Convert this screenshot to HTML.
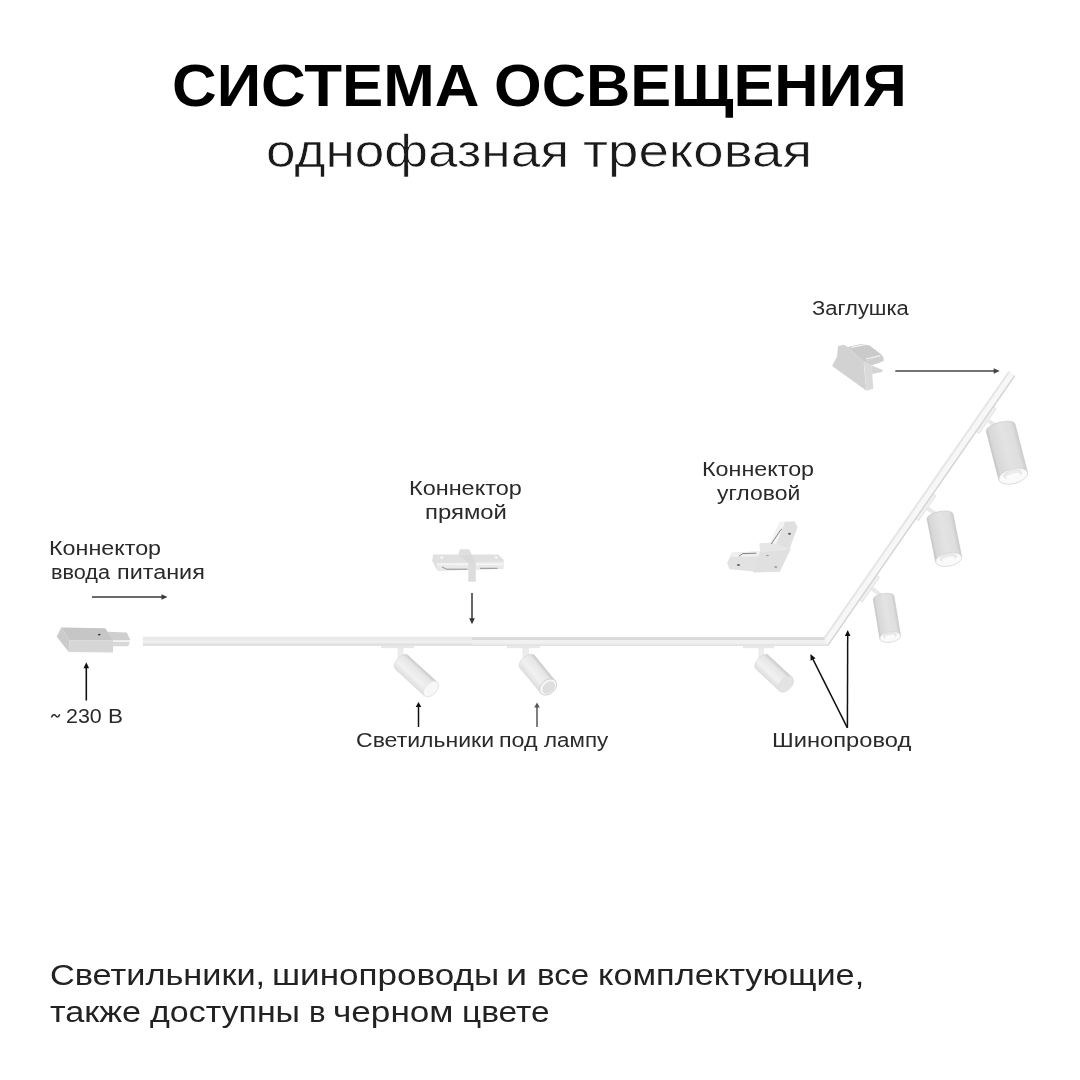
<!DOCTYPE html>
<html><head><meta charset="utf-8">
<style>
html,body{margin:0;padding:0;background:#fff;}
body{width:1080px;height:1080px;position:relative;overflow:hidden;font-family:"Liberation Sans",sans-serif;color:#1a1a1a;}
.t{position:absolute;white-space:nowrap;line-height:1;transform-origin:0 0;will-change:transform;}
svg{position:absolute;left:0;top:0;}
</style></head>
<body>
<svg width="1080" height="1080" viewBox="0 0 1080 1080">
<defs>
<linearGradient id="bodyH" x1="0" y1="0" x2="1" y2="0">
 <stop offset="0" stop-color="#dedede"/><stop offset="0.35" stop-color="#f1f1f1"/><stop offset="0.8" stop-color="#e6e6e6"/><stop offset="1" stop-color="#c9c9c9"/>
</linearGradient>
<linearGradient id="bodyV" x1="0" y1="0" x2="1" y2="0">
 <stop offset="0" stop-color="#c6c6c6"/><stop offset="0.1" stop-color="#d8d8d8"/><stop offset="0.5" stop-color="#e3e3e3"/><stop offset="0.85" stop-color="#dedede"/><stop offset="1" stop-color="#cccccc"/>
</linearGradient>
</defs>
<polygon points="143,637.30 823.89,637.30 828.35,645.80 143,645.80" fill="#ebebeb"/>
<polygon points="143,637.30 823.89,637.30 825.28,639.95 143,639.95" fill="#d9d9d9"/>
<polygon points="143,639.95 825.28,639.95 827.17,643.55 143,643.55" fill="#f1f1f1"/>
<polygon points="143,644.85 827.85,644.85 828.35,645.80 143,645.80" fill="#dedede"/>
<polygon points="823.89,637.30 1008.36,371.18 1015.34,376.02 828.35,645.80" fill="#f0f0f0"/>
<polygon points="823.89,637.30 1008.36,371.18 1010.04,372.35 824.97,639.35" fill="#e6e6e6"/>
<polygon points="824.97,639.35 1010.04,372.35 1013.99,375.08 827.48,644.15" fill="#f7f7f7"/>
<polygon points="827.69,644.55 1014.32,375.31 1015.34,376.02 828.35,645.80" fill="#d3d3d3"/>
<rect x="143" y="636.70" width="329" height="9.10" fill="#e9e9e9"/>
<rect x="143" y="640.35" width="329" height="2.6" fill="#efefef"/>
<rect x="143" y="643.75" width="329" height="2.05" fill="#e0e0e0"/>
<rect x="381" y="645.8" width="33" height="2.4" fill="#e8e8e8"/>
<rect x="398" y="648" width="5" height="13" fill="#ececec" stroke="#e0e0e0" stroke-width="0.5"/>
<rect x="507" y="645.8" width="33" height="2.4" fill="#e8e8e8"/>
<rect x="523" y="648" width="5.5" height="13" fill="#ececec" stroke="#e0e0e0" stroke-width="0.5"/>
<rect x="743" y="645.8" width="31" height="2.4" fill="#e8e8e8"/>
<rect x="759" y="648" width="4.2999999999999545" height="13" fill="#ececec" stroke="#e0e0e0" stroke-width="0.5"/>
<g transform="translate(401.50,662.10) rotate(-47.54)"><path d="M-9.4,0 A9.4,5.170000000000001 0 0 1 9.4,0 L9.4,39.849341274354806 L-9.4,39.849341274354806 Z" fill="url(#bodyH)" stroke="#d2d2d2" stroke-width="0.5"/><ellipse cx="0" cy="39.849341274354806" rx="9.4" ry="5.828" fill="#f7f7f7" stroke="#e0e0e0" stroke-width="0.8"/></g>
<g transform="translate(527.20,661.60) rotate(-39.45)"><path d="M-9.6,0 A9.6,5.28 0 0 1 9.6,0 L9.6,32.89331239021084 L-9.6,32.89331239021084 Z" fill="url(#bodyH)" stroke="#d2d2d2" stroke-width="0.5"/><ellipse cx="0" cy="32.89331239021084" rx="9.6" ry="6.912" fill="#f6f6f6" stroke="#cfcfcf" stroke-width="0.9"/><ellipse cx="0" cy="33.693312390210835" rx="7.199999999999999" ry="5.112" fill="#dedede"/></g>
<g transform="translate(762.00,662.00) rotate(-47.10)"><path d="M-9.3,0 A9.3,5.115000000000001 0 0 1 9.3,0 L9.3,32.76110498746949 L-9.3,32.76110498746949 Z" fill="url(#bodyH)" stroke="#d2d2d2" stroke-width="0.5"/><ellipse cx="0" cy="32.76110498746949" rx="9.3" ry="5.766" fill="#e3e3e3" stroke="#d8d8d8" stroke-width="0.6"/></g>
<g transform="translate(868.58,588.08) rotate(-55.27)"><rect x="-15.0" y="-0.3" width="30" height="3" fill="#f0f0f0" stroke="#d6d6d6" stroke-width="0.6"/></g>
<line x1="872" y1="588.6" x2="882" y2="596" stroke="#e9e9e9" stroke-width="4"/>
<g transform="translate(924.98,506.71) rotate(-55.27)"><rect x="-15.0" y="-0.3" width="30" height="3" fill="#f0f0f0" stroke="#d6d6d6" stroke-width="0.6"/></g>
<line x1="927" y1="508.3" x2="937" y2="514.5" stroke="#e9e9e9" stroke-width="4"/>
<g transform="translate(985.37,419.59) rotate(-55.27)"><rect x="-15.0" y="-0.3" width="30" height="3" fill="#f0f0f0" stroke="#d6d6d6" stroke-width="0.6"/></g>
<line x1="988.6" y1="420.8" x2="996" y2="426" stroke="#e9e9e9" stroke-width="4"/>
<g transform="translate(883.60,597.60) rotate(-9.51)"><path d="M-10.5,0 A10.5,3.99 0 0 1 10.5,0 L10.5,39.94896744598036 L-10.5,39.94896744598036 Z" fill="url(#bodyV)" stroke="#c4c4c4" stroke-width="0.5"/><ellipse cx="0" cy="39.94896744598036" rx="10.5" ry="5.25" fill="#fafafa" stroke="#cdcdcd" stroke-width="0.6"/><ellipse cx="0" cy="38.47896744598036" rx="6.51" ry="2.8875" fill="#ececec" stroke="#d2d2d2" stroke-width="0.5"/><ellipse cx="0" cy="39.94896744598036" rx="5.25" ry="1.8375" fill="#fbfbfb"/></g>
<g transform="translate(940.00,516.50) rotate(-11.44)"><path d="M-13.25,0 A13.25,5.035 0 0 1 13.25,0 L13.25,43.8712890168502 L-13.25,43.8712890168502 Z" fill="url(#bodyV)" stroke="#c4c4c4" stroke-width="0.5"/><ellipse cx="0" cy="43.8712890168502" rx="13.25" ry="6.625" fill="#fafafa" stroke="#cdcdcd" stroke-width="0.6"/><ellipse cx="0" cy="42.0162890168502" rx="8.215" ry="3.6437500000000003" fill="#ececec" stroke="#d2d2d2" stroke-width="0.5"/><ellipse cx="0" cy="43.8712890168502" rx="6.625" ry="2.3187499999999996" fill="#fbfbfb"/></g>
<g transform="translate(1000.70,427.80) rotate(-14.48)"><path d="M-14.85,0 A14.85,5.643 0 0 1 14.85,0 L14.85,49.988098583562845 L-14.85,49.988098583562845 Z" fill="url(#bodyV)" stroke="#c4c4c4" stroke-width="0.5"/><ellipse cx="0" cy="49.988098583562845" rx="14.85" ry="7.425" fill="#fafafa" stroke="#cdcdcd" stroke-width="0.6"/><ellipse cx="0" cy="47.909098583562844" rx="9.206999999999999" ry="4.08375" fill="#ececec" stroke="#d2d2d2" stroke-width="0.5"/><ellipse cx="0" cy="49.988098583562845" rx="7.425" ry="2.59875" fill="#fbfbfb"/></g>
<polygon points="107.5,631.7 126.7,632.5 130.4,640 113,641.5" fill="#cfcfcf"/>
<polygon points="113,641.8 130,641.2 128.3,646.3 113,646.3" fill="#d8d8d8"/>
<rect x="113" y="640.2" width="17" height="1.6" fill="#f4f4f4"/>
<polygon points="61.25,627.5 105.4,628.3 113,640.6 69.6,640.4" fill="#c6c6c6"/>
<polygon points="56.7,636.7 61.25,627.5 69.6,640.4 68.75,652" fill="#cbcbcb"/>
<polygon points="69.6,640.4 113,640.6 113,652.5 68.75,652" fill="#d6d6d6"/>
<ellipse cx="99.2" cy="634.6" rx="1.4" ry="0.9" fill="#444"/>
<polygon points="460,549.2 469.2,549.2 471.7,554.6 458.3,554.6" fill="#dedede"/>
<polygon points="433.3,554.6 498.3,554.6 503.75,560 503.3,568.75 437.5,570.8 432.1,560.8" fill="#e0e0e0"/>
<polygon points="437,563 503.5,561.5 503.3,568.75 437.5,570.8" fill="#e9e9e9"/>
<rect x="437" y="563.6" width="66.5" height="1.3" fill="#f8f8f8"/>
<polygon points="458.3,554.6 471.7,554.6 475.8,563 468.3,563" fill="#d9d9d9"/>
<polygon points="468.3,563 475.8,563 475.8,581.7 468.3,581.7" fill="#dcdcdc"/>
<polyline points="442,567 446.7,569.2 467.5,569.2" fill="none" stroke="#555" stroke-width="0.6"/>
<line x1="480" y1="568.3" x2="497.5" y2="568.3" stroke="#555" stroke-width="0.6"/>
<ellipse cx="441.7" cy="557.5" rx="1.8" ry="1" fill="#fafafa"/>
<ellipse cx="496.3" cy="557.5" rx="1.8" ry="1" fill="#fafafa"/>
<polygon points="727.1,563 731.8,552.8 759.4,551.2 757,571.7 729.4,569.3" fill="#e2e2e2"/>
<polygon points="731.8,552.8 759.4,551.2 759,556.5 730,557" fill="#efefef"/>
<polygon points="770.4,542.6 779.8,522 794.8,521.3 797.5,527.6 789.3,549.6" fill="#e0e0e0"/>
<polygon points="770.4,542.6 779.8,522 785,522 776,545" fill="#f2f2f2"/>
<polygon points="759.4,543.3 770.4,542.6 790.9,548.8 760,552" fill="#e6e6e6"/>
<polygon points="760,552 790.9,548.8 779.8,571.7 753,572.5" fill="#e0e0e0"/>
<polyline points="739,556.2 742.8,553.6 756.2,553.2" fill="none" stroke="#555" stroke-width="0.7"/>
<polyline points="771.2,544.1 780.6,530 782,529" fill="none" stroke="#555" stroke-width="0.7"/>
<ellipse cx="738.5" cy="565" rx="1.6" ry="1.1" fill="#666"/>
<ellipse cx="789.5" cy="533.8" rx="1.6" ry="1.1" fill="#666"/>
<ellipse cx="775.8" cy="567" rx="1.6" ry="0.8" fill="#8a8a8a"/>
<ellipse cx="767.5" cy="555.5" rx="1.4" ry="0.7" fill="#9a9a9a"/>
<polygon points="847.7,347 861.3,344.1 869.7,345.4 881.4,354.4 863.9,362.2" fill="#cacaca"/>
<polygon points="881.4,354.4 883.6,357.7 883.6,361 871.7,365.5 863.9,362.2" fill="#cfcfcf"/>
<polygon points="871.7,365.5 882.7,370 882,372 871.7,373.9" fill="#d4d4d4"/>
<polygon points="838,346.3 843.8,344.7 847.7,347 863.9,362.2 863.9,366.1 866.5,390.7 832.1,366.1 837,356.4" fill="#d2d2d2"/>
<polygon points="863.9,362.2 871.7,365.5 873.3,388.8 866.5,390.7" fill="#dadada"/>
<line x1="851" y1="347.3" x2="865.2" y2="344.7" stroke="#f0f0f0" stroke-width="1.2"/>
<line x1="865.8" y1="359" x2="880.1" y2="355.7" stroke="#f0f0f0" stroke-width="1.2"/>
<path d="M51.4,717.6 C52.6,714.2 54.6,714 55.7,715.7 C56.8,717.4 58.6,717.6 59.7,714.2" fill="none" stroke="#2a2a2a" stroke-width="1.5"/>
<line x1="92.00" y1="597.00" x2="162.50" y2="597.00" stroke="#3a3a3a" stroke-width="1.6"/><polygon points="167.50,597.00 161.50,599.80 161.50,594.20" fill="#3a3a3a"/>
<line x1="86.30" y1="700.50" x2="86.30" y2="667.20" stroke="#111" stroke-width="1.6"/><polygon points="86.30,662.20 89.10,668.20 83.50,668.20" fill="#111"/>
<line x1="472.00" y1="593.00" x2="472.00" y2="619.30" stroke="#333" stroke-width="1.5"/><polygon points="472.00,624.30 469.20,618.30 474.80,618.30" fill="#333"/>
<line x1="418.50" y1="727.00" x2="418.50" y2="706.00" stroke="#111" stroke-width="1.5"/><polygon points="418.50,702.00 421.30,707.00 415.70,707.00" fill="#111"/>
<line x1="537.00" y1="727.00" x2="537.00" y2="706.60" stroke="#555" stroke-width="1.5"/><polygon points="537.00,702.60 539.80,707.60 534.20,707.60" fill="#555"/>
<line x1="847.40" y1="727.80" x2="812.64" y2="658.57" stroke="#111" stroke-width="1.5"/><polygon points="810.40,654.10 815.59,658.21 810.59,660.72" fill="#111"/>
<line x1="847.40" y1="727.80" x2="847.68" y2="635.00" stroke="#111" stroke-width="1.5"/><polygon points="847.70,630.00 850.48,636.01 844.88,635.99" fill="#111"/>
<line x1="895.30" y1="371.00" x2="994.70" y2="371.00" stroke="#444" stroke-width="1.6"/><polygon points="999.70,371.00 993.70,373.80 993.70,368.20" fill="#444"/>
</svg>
<div class="t" id="title0" style="left:171.76px;top:57.01px;font-size:59px;font-weight:bold;color:#000;transform:scaleX(1.0481);">СИСТЕМА</div>
<div class="t" id="title1" style="left:494.16px;top:57.01px;font-size:59px;font-weight:bold;color:#000;transform:scaleX(1.0386);">ОСВЕЩЕНИЯ</div>
<div class="t" id="sub0" style="left:266.43px;top:126.81px;font-size:47px;color:#1a1a1a;-webkit-text-stroke:0.6px #fff;transform:scaleX(1.1306);">однофазная</div>
<div class="t" id="sub1" style="left:582.82px;top:126.81px;font-size:47px;color:#1a1a1a;-webkit-text-stroke:0.6px #fff;transform:scaleX(1.1624);">трековая</div>
<div class="t" id="k1a" style="left:49.46px;top:537.90px;font-size:20px;color:#2a2a2a;transform:scaleX(1.1658);">Коннектор</div>
<div class="t" id="k1b0" style="left:50.68px;top:561.70px;font-size:20px;color:#2a2a2a;transform:scaleX(1.0825);">ввода</div>
<div class="t" id="k1b1" style="left:116.83px;top:561.70px;font-size:20px;color:#2a2a2a;transform:scaleX(1.1691);">питания</div>
<div class="t" id="v1" style="left:65.91px;top:706.00px;font-size:20px;color:#2a2a2a;transform:scaleX(1.0710);">230</div>
<div class="t" id="v2" style="left:107.91px;top:706.00px;font-size:20px;color:#2a2a2a;transform:scaleX(1.1210);">В</div>
<div class="t" id="k2a" style="left:409.45px;top:477.81px;font-size:20px;color:#2a2a2a;transform:scaleX(1.1723);">Коннектор</div>
<div class="t" id="k2b" style="left:425.01px;top:502.00px;font-size:20px;color:#2a2a2a;transform:scaleX(1.1943);">прямой</div>
<div class="t" id="svet0" style="left:356.36px;top:730.41px;font-size:20px;color:#2a2a2a;transform:scaleX(1.1513);">Светильники</div>
<div class="t" id="svet1" style="left:499.44px;top:730.41px;font-size:20px;color:#2a2a2a;transform:scaleX(1.1649);">под</div>
<div class="t" id="svet2" style="left:543.98px;top:730.41px;font-size:20px;color:#2a2a2a;transform:scaleX(1.1191);">лампу</div>
<div class="t" id="k3a" style="left:701.66px;top:458.90px;font-size:20px;color:#2a2a2a;transform:scaleX(1.1658);">Коннектор</div>
<div class="t" id="k3b" style="left:716.77px;top:482.50px;font-size:20px;color:#2a2a2a;transform:scaleX(1.1473);">угловой</div>
<div class="t" id="shin" style="left:772.43px;top:729.81px;font-size:20px;color:#2a2a2a;transform:scaleX(1.1847);">Шинопровод</div>
<div class="t" id="zagl" style="left:812.49px;top:297.71px;font-size:20px;color:#2a2a2a;transform:scaleX(1.0994);">Заглушка</div>
<div class="t" id="b10" style="left:49.61px;top:959.81px;font-size:30px;color:#222;transform:scaleX(1.1436);">Светильники,</div>
<div class="t" id="b11" style="left:272.30px;top:959.81px;font-size:30px;color:#222;transform:scaleX(1.1683);">шинопроводы</div>
<div class="t" id="b12" style="left:506.24px;top:959.81px;font-size:30px;color:#222;transform:scaleX(1.2620);">и</div>
<div class="t" id="b13" style="left:536.83px;top:959.81px;font-size:30px;color:#222;transform:scaleX(1.1021);">все</div>
<div class="t" id="b14" style="left:597.72px;top:959.81px;font-size:30px;color:#222;transform:scaleX(1.1439);">комплектующие,</div>
<div class="t" id="b20" style="left:49.97px;top:996.70px;font-size:30px;color:#222;transform:scaleX(1.1389);">также</div>
<div class="t" id="b21" style="left:149.58px;top:996.70px;font-size:30px;color:#222;transform:scaleX(1.1309);">доступны</div>
<div class="t" id="b22" style="left:308.69px;top:996.70px;font-size:30px;color:#222;transform:scaleX(1.0396);">в</div>
<div class="t" id="b23" style="left:333.06px;top:996.70px;font-size:30px;color:#222;transform:scaleX(1.1710);">черном</div>
<div class="t" id="b24" style="left:461.85px;top:996.70px;font-size:30px;color:#222;transform:scaleX(1.1139);">цвете</div>
</body></html>
